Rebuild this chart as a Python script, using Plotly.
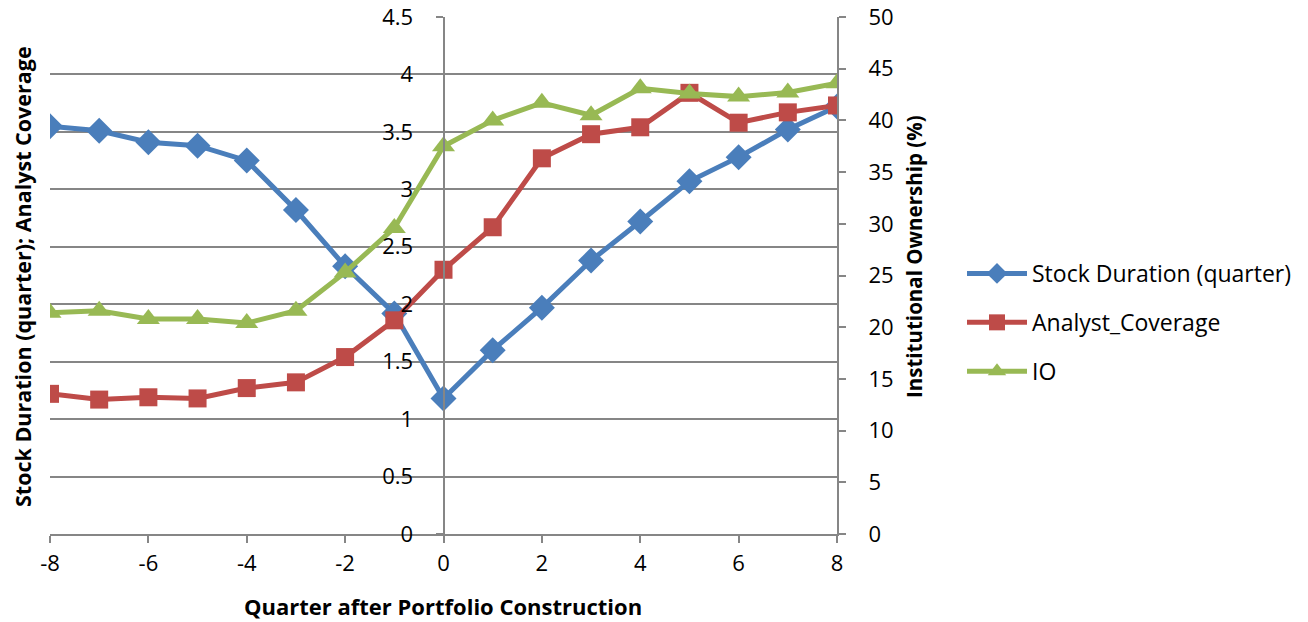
import plotly.graph_objects as go

quarters = [-8, -7, -6, -5, -4, -3, -2, -1, 0, 1, 2, 3, 4, 5, 6, 7, 8]
x_tick_vals = [-8, -6, -4, -2, 0, 2, 4, 6, 8]
x_tick_text = ["-8", "-6", "-4", "-2", "0", "2", "4", "6", "8"]
stock_duration = [3.55, 3.51, 3.41, 3.38, 3.25, 2.82, 2.33, 1.92, 1.18, 1.60, 1.97, 2.38, 2.72, 3.07, 3.28, 3.52, 3.72]
analyst_coverage = [1.22, 1.17, 1.19, 1.18, 1.27, 1.32, 1.54, 1.86, 2.30, 2.67, 3.27, 3.48, 3.54, 3.84, 3.58, 3.67, 3.73]
io = [21.4, 21.6, 20.8, 20.8, 20.4, 21.6, 25.3, 29.6, 37.5, 40.0, 41.7, 40.5, 43.1, 42.6, 42.3, 42.7, 43.6]

W, H = 1308, 622
OFF = 8  # page body margin


def xp(px):
    return (px - OFF) / W


def yp(py):
    return (H - (py - OFF)) / H


FONT = "Open Sans"
x0, x1 = xp(50), xp(837)
y0, y1 = yp(534), yp(17)
xzero = x0 + (x1 - x0) * 0.5

fig = go.Figure()
fig.add_trace(go.Scatter(x=quarters, y=stock_duration, name="Stock Duration (quarter)",
                         legendgroup="a",
                         mode="lines+markers", line=dict(color="#4A7EBB", width=5),
                         marker=dict(symbol="diamond", size=20, color="#4A7EBB")))
fig.add_trace(go.Scatter(x=quarters, y=analyst_coverage, name="Analyst_Coverage",
                         legendgroup="b",
                         mode="lines+markers", line=dict(color="#BE4B48", width=5),
                         marker=dict(symbol="square", size=18, color="#BE4B48")))
fig.add_trace(go.Scatter(x=quarters, y=io, name="IO", yaxis="y2", legendgroup="c",
                         mode="lines+markers", line=dict(color="#98B954", width=5),
                         marker=dict(symbol="triangle-up", size=20, color="#98B954")))

axcol = "#868686"
TICK = 22
fig.update_layout(
    width=W, height=H,
    margin=dict(l=0, r=0, t=0, b=0, autoexpand=False),
    paper_bgcolor="white", plot_bgcolor="white",
    font=dict(family=FONT, size=TICK, color="black"),
    xaxis=dict(domain=[x0, x1], range=[-8, 8], tickvals=x_tick_vals, ticktext=x_tick_text,
               showgrid=False, zeroline=False, showline=True, linecolor=axcol, linewidth=2,
               ticks="outside", ticklen=7, tickcolor=axcol, tickwidth=2, automargin=False,
               tickfont=dict(size=TICK), anchor="y", ticklabelstandoff=2,
               ticklabeloverflow="allow"),
    yaxis=dict(domain=[y0, y1], range=[0, 4.5], dtick=0.5, anchor="free", position=xzero,
               showgrid=True, gridcolor=axcol, gridwidth=2, zeroline=False,
               showline=True, linecolor=axcol, linewidth=2, automargin=False,
               ticks="outside", ticklen=7, tickcolor=axcol, tickwidth=2,
               tickfont=dict(size=TICK), ticklabelstandoff=18, ticklabeloverflow="allow"),
    yaxis2=dict(range=[0, 50], dtick=5, overlaying="y", side="right", anchor="x",
                showgrid=False, zeroline=False, showline=True, linecolor=axcol, linewidth=2,
                ticks="outside", ticklen=7, tickcolor=axcol, tickwidth=2, automargin=False,
                tickfont=dict(size=TICK), ticklabelstandoff=18, ticklabeloverflow="allow"),
    legend=dict(x=xp(962), y=yp(252), xanchor="left", yanchor="top",
                font=dict(size=23), traceorder="grouped", tracegroupgap=16, itemwidth=60,
                bgcolor="rgba(0,0,0,0)"),
    showlegend=True,
)

fig.add_annotation(text="<b>Stock Duration (quarter); Analyst Coverage</b>", textangle=-90,
                   x=xp(22), y=yp(277), xref="paper", yref="paper", xanchor="center",
                   yanchor="middle", showarrow=False, font=dict(size=21.5))
fig.add_annotation(text="<b>Institutional Ownership (%)</b>", textangle=-90,
                   x=xp(914), y=yp(256), xref="paper", yref="paper", xanchor="center",
                   yanchor="middle", showarrow=False, font=dict(size=20.5))
fig.add_annotation(text="<b>Quarter after Portfolio Construction</b>",
                   x=xp(443), y=yp(606), xref="paper", yref="paper", xanchor="center",
                   yanchor="middle", showarrow=False, font=dict(size=22))

fig.write_html("out.html")
